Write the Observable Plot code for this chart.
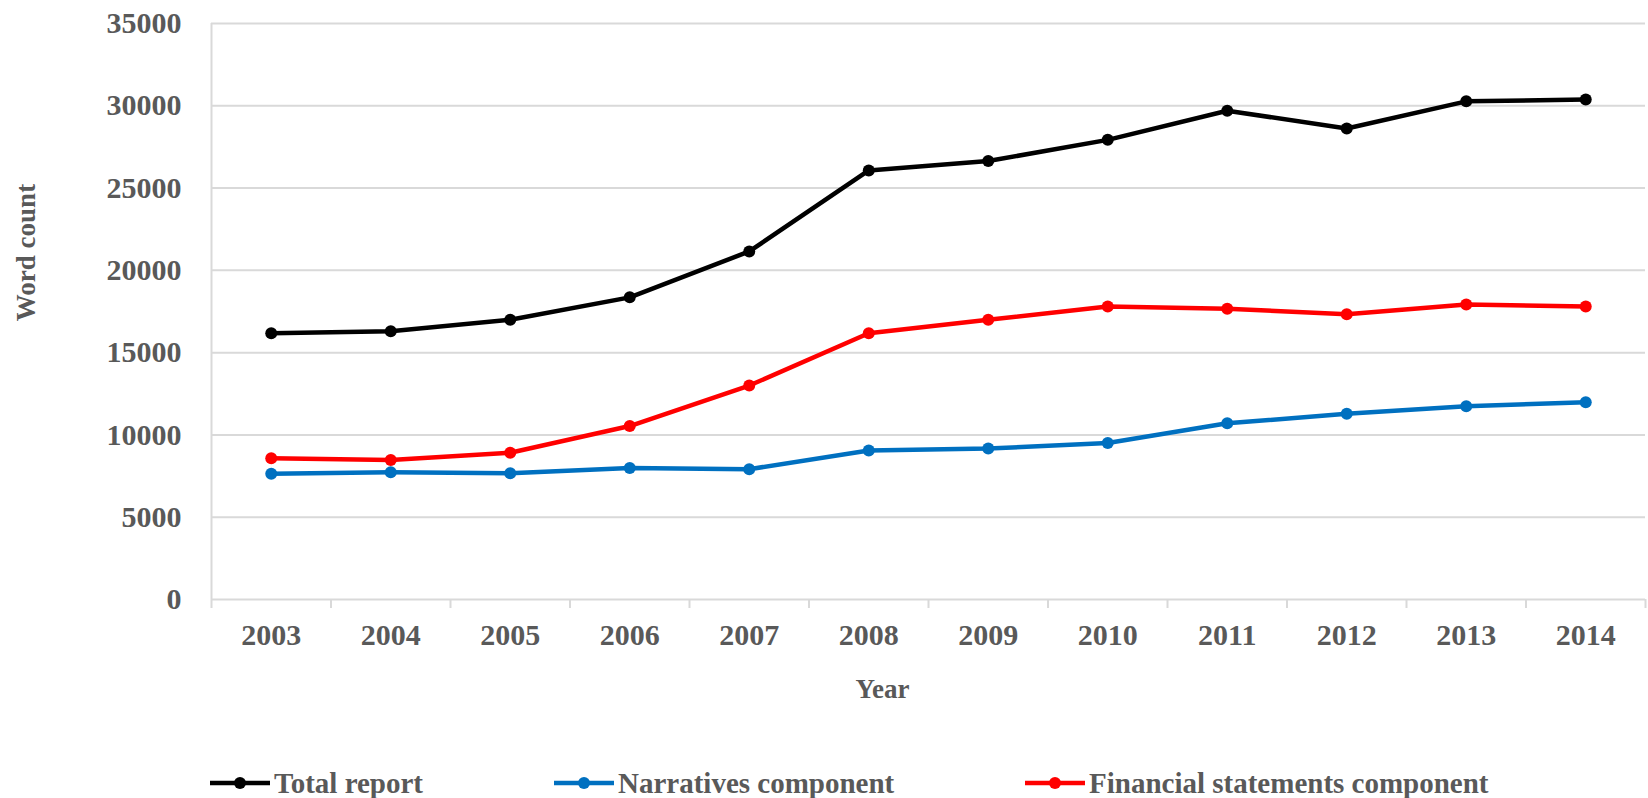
<!DOCTYPE html>
<html><head><meta charset="utf-8">
<script src="https://cdn.jsdelivr.net/npm/d3@7"></script>
<script src="https://cdn.jsdelivr.net/npm/@observablehq/plot@0.6"></script>
<style>
body{margin:0;background:#fff;width:1648px;height:798px;overflow:hidden;font-family:"Liberation Serif","Times New Roman",serif;}
#chart svg{display:block;}
#legend{position:relative;height:78px;}
.item{position:absolute;top:47px;height:32px;display:flex;align-items:center;font-weight:bold;font-size:29px;color:#595959;white-space:nowrap;}
.item svg{margin-right:4px;}
</style></head>
<body>
<div id="chart"></div>
<div id="legend"></div>
<script>
const years = [2003, 2004, 2005, 2006, 2007, 2008, 2009, 2010, 2011, 2012, 2013, 2014];
const total = [16180, 16300, 17000, 18360, 21150, 26070, 26640, 27930, 29700, 28620, 30270, 30380];
const narratives = [7640, 7730, 7670, 7990, 7920, 9050, 9170, 9510, 10710, 11280, 11740, 11990];
const financial = [8590, 8470, 8920, 10540, 13000, 16180, 17000, 17800, 17670, 17340, 17920, 17800];
const seriesNames = ["Total report", "Narratives component", "Financial statements component"];
const seriesColors = ["#000000", "#0070C0", "#FF0000"];
const yTicks = [0, 5000, 10000, 15000, 20000, 25000, 30000, 35000];
const legendLeft = [210, 554, 1025];

const seriesValues = [total, narratives, financial];
const data = [];
seriesNames.forEach((name, s) => years.forEach((yr, i) => data.push({year: yr, value: seriesValues[s][i], series: name})));
const bounds = years.map(y => y - 0.5).concat([years[years.length - 1] + 0.5]);

const chart = Plot.plot({
  width: 1648, height: 720,
  marginLeft: 211, marginRight: 3, marginTop: 23, marginBottom: 121,
  style: {fontFamily: "'Liberation Serif', 'Times New Roman', serif", fontWeight: "bold", fontSize: "30px", color: "#595959", background: "#fff", overflow: "visible"},
  x: {domain: [bounds[0], bounds[bounds.length - 1]]},
  y: {domain: [0, 35000]},
  color: {domain: seriesNames, range: seriesColors},
  marks: [
    Plot.ruleY(yTicks, {stroke: "#d9d9d9", strokeWidth: 2}),
    Plot.ruleX([bounds[0]], {y1: 0, y2: 35000, stroke: "#d9d9d9", strokeWidth: 2}),
    Plot.axisX({ticks: bounds, tickSize: 9, tickFormat: () => "", stroke: "#d9d9d9", strokeWidth: 2, label: null}),
    Plot.axisX({ticks: years, tickSize: 0, tickPadding: 24, tickFormat: d => String(d), label: null}),
    Plot.axisY({ticks: yTicks, tickSize: 0, tickPadding: 30, tickFormat: d => String(d), label: null}),
    Plot.text(["Year"], {text: d => d, frameAnchor: "bottom", dx: -46, dy: 98, fontSize: 27, fill: "#595959"}),
    Plot.text(["Word count"], {text: d => d, frameAnchor: "left", textAnchor: "middle", rotate: -90, dx: -185, dy: -59, fontSize: 27, fill: "#595959"}),
    Plot.line(data, {x: "year", y: "value", z: "series", stroke: "series", strokeWidth: 4.5}),
    Plot.dot(data, {x: "year", y: "value", fill: "series", r: 6})
  ]
});
document.getElementById("chart").appendChild(chart);

const legend = document.getElementById("legend");
seriesNames.forEach((name, i) => {
  const item = document.createElement("div");
  item.className = "item";
  item.style.left = legendLeft[i] + "px";
  item.innerHTML = `<svg width="60" height="20"><line x1="0" y1="10" x2="60" y2="10" stroke="${seriesColors[i]}" stroke-width="4.5"/><circle cx="30" cy="10" r="6" fill="${seriesColors[i]}"/></svg><span>${name}</span>`;
  legend.appendChild(item);
});
</script>
</body></html>
